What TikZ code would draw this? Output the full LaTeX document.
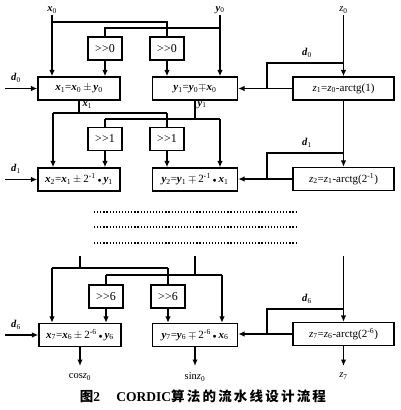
\documentclass[tikz,border=0pt]{standalone}
\usepackage{fontspec}
\setmainfont{Liberation Serif}
\newfontfamily\cjk{Noto Sans CJK SC}
\usetikzlibrary{arrows.meta}
\newcommand\bv[1]{\textbf{\textit{#1}}}
\newcommand\lo[1]{\textsubscript{#1}}
\newcommand\hi[1]{\textsuperscript{#1}}
\newcommand\dotop{\,{\scriptsize$\bullet$}\,}
\newcommand\shr[1]{>\kern0.3pt>#1}
\newcommand\cs{\hspace{2.2pt}}
\begin{document}
\begin{tikzpicture}[x=1pt,y=-1pt,line width=1.3pt,
  box/.style={draw,minimum height=23pt,inner sep=0pt,font=\fontsize{11}{12}\selectfont},
  xbox/.style={box,minimum width=82pt},
  ybox/.style={box,minimum width=85pt},
  zbox/.style={box,minimum width=101pt},
  sbox/.style={box,minimum width=34pt,font=\fontsize{12}{13}\selectfont},
  arr/.style={-{Latex[length=6.5pt,width=5.5pt]}},
  lab/.style={inner sep=1pt,font=\fontsize{10.5}{12}\selectfont},
  dots/.style={line width=1.3pt,dash pattern=on 1.2pt off 1.9pt}]
\useasboundingbox (0,0) rectangle (400,410);
% top labels
\node[lab] (x0l) at (52,10) {\bv{x}\lo{0}};
\node[lab] (y0l) at (220,10) {\bv{y}\lo{0}};
\node[lab] (z0l) at (343.5,10) {\textit{z}\lo{0}};
% stage 1
\node[sbox] (s0a) at (105,48.5) {\shr{0}};
\node[sbox] (s0b) at (167,48.5) {\shr{0}};
\node[xbox] (x1) at (79,88.5) {\bv{x}\lo{1}=\bv{x}\lo{0}\,$\pm$\,\bv{y}\lo{0}};
\node[ybox] (y1) at (195,88.5) {\bv{y}\lo{1}=\bv{y}\lo{0}$\mp$\bv{x}\lo{0}};
\node[zbox] (z1) at (343.5,88.5) {\textit{z}\lo{1}=\textit{z}\lo{0}-arctg(1)};
% stage 2
\node[sbox] (s1a) at (105,139) {\shr{1}};
\node[sbox] (s1b) at (167,139) {\shr{1}};
\node[xbox] (x2) at (79,179.5) {\bv{x}\lo{2}=\bv{x}\lo{1}\,$\pm$\,2\hi{-1}\dotop\bv{y}\lo{1}};
\node[ybox] (y2) at (195,179.5) {\bv{y}\lo{2}=\bv{y}\lo{1}\,$\mp$\,2\hi{-1}\dotop\bv{x}\lo{1}};
\node[zbox] (z2) at (343.5,179) {\textit{z}\lo{2}=\textit{z}\lo{1}-arctg(2\hi{-1})};
% stage 7
\node[sbox] (s6a) at (106,296.5) {\shr{6}};
\node[sbox] (s6b) at (168,296.5) {\shr{6}};
\node[xbox] (x7) at (80,335) {\bv{x}\lo{7}=\bv{x}\lo{6}\,$\pm$\,2\hi{-6}\dotop\bv{y}\lo{6}};
\node[ybox] (y7) at (195,335) {\bv{y}\lo{7}=\bv{y}\lo{6}\,$\mp$\,2\hi{-6}\dotop\bv{x}\lo{6}};
\node[zbox] (z7) at (343.5,334) {\textit{z}\lo{7}=\textit{z}\lo{6}-arctg(2\hi{-6})};

% ---- stage 1 wiring
\coordinate (a0) at (52,22);
\coordinate (b0) at (220,28);
\draw[arr] (x0l.south) -- (x0l.south |- x1.north);
\draw (a0) -| (s0b.north);
\draw[arr] (y0l.south) -- (y0l.south |- y1.north);
\draw (b0) -| (s0a.north);
\draw[arr] (s0a.south) -- (s0a.south |- x1.north);
\draw[arr] (s0b.south) -- (s0b.south |- y1.north);
\draw[arr] (z0l.south) -- (z1.north);
\coordinate (e0) at (343.5,63);
\coordinate (f0) at (267,63);
\draw (e0) -- (f0) -- (f0 |- z1.west);
\draw[arr] (z1.west) -- (z1.west -| y1.east);
\node[lab] (d0r) at (307,53) {\bv{d}\lo{0}};
\coordinate (g0) at (5,88.5);
\draw[arr] (g0) -- (x1.west);
\node[lab] (d0l) at (16,78) {\bv{d}\lo{0}};

% ---- stage 1 -> 2
\coordinate (h1L) at (53,113);
\coordinate (h1R) at (167,113);
\coordinate (k1L) at (105,119);
\coordinate (k1R) at (220,119);
\draw (x1.south) -- (x1.south |- h1L);
\draw (h1L) -- (h1R);
\draw[arr] (h1L) -- (h1L |- x2.north);
\draw (h1R) -- (h1R |- s1b.north);
\node[lab,anchor=west] (x1o) at (81,105) {\bv{x}\lo{1}};
\draw (y1.south) -- (y1.south |- k1L);
\draw (k1L) -- (k1R);
\draw (k1L) -- (k1L |- s1a.north);
\draw[arr] (k1R) -- (k1R |- y2.north);
\node[lab,anchor=west] (y1o) at (196,105) {\bv{y}\lo{1}};
\draw[arr] (s1a.south) -- (s1a.south |- x2.north);
\draw[arr] (s1b.south) -- (s1b.south |- y2.north);
\draw[arr] (z1.south) -- (z2.north);
\coordinate (e1) at (343.5,153);
\coordinate (f1) at (267,153);
\draw (e1) -- (f1) -- (f1 |- z2.west);
\draw[arr] (z2.west) -- (z2.west -| y2.east);
\node[lab] (d1r) at (307,143) {\bv{d}\lo{1}};
\coordinate (g1) at (5,179.5);
\draw[arr] (g1) -- (x2.west);
\node[lab] (d1l) at (16,169) {\bv{d}\lo{1}};

% ---- dotted rows
\coordinate (r1a) at (94,212); \coordinate (r1b) at (297,212);
\coordinate (r2a) at (94,227); \coordinate (r2b) at (297,227);
\coordinate (r3a) at (94,243); \coordinate (r3b) at (297,243);
\draw[dots] (r1a) -- (r1b);
\draw[dots] (r2a) -- (r2b);
\draw[dots] (r3a) -- (r3b);

% ---- stage 7 wiring
\coordinate (p1) at (80,256);
\coordinate (p2) at (195,256);
\coordinate (p3) at (343.5,256);
\coordinate (h7L) at (52,268);
\coordinate (h7R) at (168,268);
\coordinate (k7L) at (106,275);
\coordinate (k7R) at (222,275);
\draw (p1) -- (p1 |- h7L);
\draw (h7L) -- (h7R);
\draw[arr] (h7L) -- (h7L |- x7.north);
\draw (h7R) -- (h7R |- s6b.north);
\draw (p2) -- (p2 |- k7L);
\draw (k7L) -- (k7R);
\draw (k7L) -- (k7L |- s6a.north);
\draw[arr] (k7R) -- (k7R |- y7.north);
\draw[arr] (s6a.south) -- (s6a.south |- x7.north);
\draw[arr] (s6b.south) -- (s6b.south |- y7.north);
\draw[arr] (p3) -- (z7.north);
\coordinate (e7) at (343.5,309);
\coordinate (f7) at (267,309);
\draw (e7) -- (f7) -- (f7 |- z7.west);
\draw[arr] (z7.west) -- (z7.west -| y7.east);
\node[lab] (d6r) at (307,299) {\bv{d}\lo{6}};
\coordinate (g7) at (5,335);
\draw[arr] (g7) -- (x7.west);
\node[lab] (d6l) at (16,325) {\bv{d}\lo{6}};

% ---- outputs
\coordinate (o1) at (80,366);
\coordinate (o2) at (195,366);
\coordinate (o3) at (343.5,366);
\draw[arr] (x7.south) -- (o1);
\draw[arr] (y7.south) -- (o2);
\draw[arr] (z7.south) -- (o3);
\node[lab] (cosl) at (80,377) {cos\textit{z}\lo{0}};
\node[lab] (sinl) at (195,377) {sin\textit{z}\lo{0}};
\node[lab] (z7l) at (343.5,376) {\textit{z}\lo{7}};

% ---- caption
\node[inner sep=0pt,font=\fontsize{13.5}{15}\selectfont\bfseries] (cap) at (203,396)
  {{\cjk 图}2\hspace{1.2em}CORDIC{\cjk 算\cs 法\cs 的\cs 流\cs 水\cs 线\cs 设\cs 计\cs 流\cs 程}};
\end{tikzpicture}
\end{document}
